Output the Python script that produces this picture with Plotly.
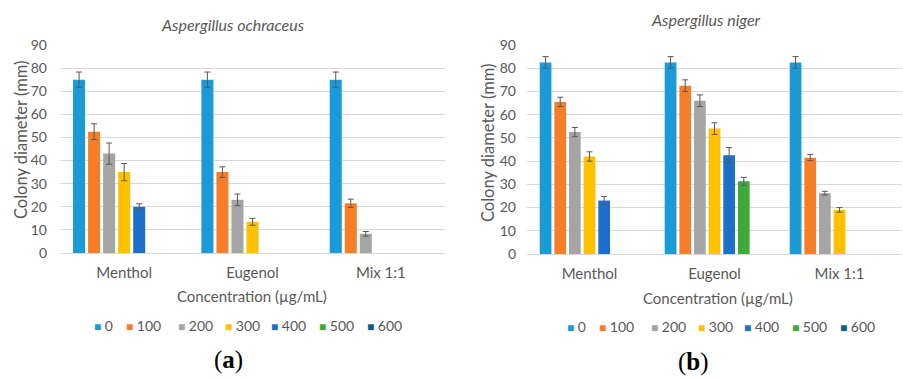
import plotly.graph_objects as go

W, H = 903, 379

categories = ["Menthol", "Eugenol", "Mix 1:1"]
series_names = ["0", "100", "200", "300", "400", "500", "600"]
colors = ["#1a9ad7", "#f77e28", "#a5a5a5", "#ffc000", "#1b6fc8", "#3fa93a", "#0e5c93"]

# Aspergillus ochraceus (a)
ochr_values = [
    [75.0, 75.0, 75.0],
    [52.5, 35.0, 21.5],
    [43.0, 23.0, 8.3],
    [35.0, 13.5, None],
    [20.0, None, None],
    [None, None, None],
    [None, None, None],
]
ochr_err = [
    [3.3, 3.3, 3.3],
    [3.4, 2.3, 1.8],
    [4.6, 2.5, 1.0],
    [3.7, 1.5, 0],
    [1.3, 0, 0],
    [0, 0, 0],
    [0, 0, 0],
]

# Aspergillus niger (b)
niger_values = [
    [82.5, 82.5, 82.5],
    [65.5, 72.5, 41.5],
    [52.5, 66.0, 26.2],
    [42.0, 54.0, 19.0],
    [23.0, 42.5, None],
    [None, 31.3, None],
    [None, None, None],
]
niger_err = [
    [2.5, 2.5, 2.5],
    [2.0, 2.5, 1.3],
    [2.0, 2.5, 0.8],
    [2.0, 2.5, 1.0],
    [1.8, 3.3, 0],
    [0, 1.7, 0],
    [0, 0, 0],
]

y_ticks = [0, 10, 20, 30, 40, 50, 60, 70, 80, 90]

FONT = "Lato, 'Open Sans', sans-serif"
GRAY = "#595959"


def px(x):
    return x / W


def py(y):
    return 1 - y / H


fig = go.Figure()

panels = [
    ("x", "y", ochr_values, ochr_err),
    ("x2", "y2", niger_values, niger_err),
]
for xa, ya, vals, errs in panels:
    for i, name in enumerate(series_names):
        fig.add_trace(go.Bar(
            x=categories, y=vals[i], name=name,
            marker=dict(color=colors[i], line=dict(width=0)),
            error_y=dict(type="data", array=errs[i], visible=True,
                         color="#595959", thickness=1, width=3),
            xaxis=xa, yaxis=ya, showlegend=False,
        ))

axis_common_y = dict(
    range=[0, 90], tickvals=y_ticks, showgrid=True, gridcolor="#d9d9d9",
    gridwidth=1, zeroline=False, showline=False, ticks="",
    tickfont=dict(family=FONT, size=14, color=GRAY),
)
axis_common_x = dict(
    showgrid=False, zeroline=False, showline=True, linecolor="#d9d9d9",
    ticks="", tickfont=dict(family=FONT, size=15, color=GRAY),
)

fig.update_layout(
    width=W, height=H,
    margin=dict(l=0, r=0, t=0, b=0, autoexpand=False),
    paper_bgcolor="white", plot_bgcolor="white",
    barmode="group", bargap=0.18, bargroupgap=0.2,
    showlegend=False,
    xaxis=dict(domain=[px(60), px(445)], anchor="y", **axis_common_x,
               ticklabelstandoff=6),
    yaxis=dict(domain=[py(253), py(45)], anchor="x", **axis_common_y,
               ticklabelstandoff=12),
    xaxis2=dict(domain=[px(527), px(902)], anchor="y2", **axis_common_x,
                ticklabelstandoff=6),
    yaxis2=dict(domain=[py(254), py(45)], anchor="x2", **axis_common_y,
                ticklabelstandoff=10),
)

annots = [
    dict(text="<i>Aspergillus ochraceus</i>", x=px(233), y=py(24), size=16),
    dict(text="<i>Aspergillus niger</i>", x=px(706), y=py(20), size=16),
    dict(text="Concentration (µg/mL)", x=px(252), y=py(296), size=15),
    dict(text="Concentration (µg/mL)", x=px(718), y=py(298), size=15),
]
for a in annots:
    fig.add_annotation(text=a["text"], x=a["x"], y=a["y"], xref="paper", yref="paper",
                       showarrow=False, xanchor="center", yanchor="middle",
                       font=dict(family=FONT, size=a["size"], color=GRAY))

for xpos, ypos in [(21, 140), (488, 143)]:
    fig.add_annotation(text="Colony diameter (mm)", x=px(xpos), y=py(ypos),
                       xref="paper", yref="paper", showarrow=False, textangle=-90,
                       xanchor="center", yanchor="middle",
                       font=dict(family=FONT, size=16.5, color=GRAY))

# legends (one per panel), built from series names and colours
legend_offsets = [0, 32, 84, 131, 177, 225, 273]
for start, ly in [(92, 325), (565, 326)]:
    for name, col, off in zip(series_names, colors, legend_offsets):
        fig.add_annotation(
            text=f"<span style='color:{col};font-size:12px'>■</span>&nbsp;{name}",
            x=px(start + off), y=py(ly), xref="paper", yref="paper",
            showarrow=False, xanchor="left", yanchor="middle",
            font=dict(family=FONT, size=14, color=GRAY))

for lbl, xpos, ypos in [("(<b>a</b>)", 228, 360), ("(<b>b</b>)", 693, 362)]:
    fig.add_annotation(text=lbl, x=px(xpos), y=py(ypos), xref="paper", yref="paper",
                       showarrow=False, xanchor="center", yanchor="middle",
                       font=dict(family="'Liberation Serif', 'DejaVu Serif', serif",
                                 size=25, color="black"))

fig.write_html("out.html", post_script="document.body.style.margin='0';",
               config={"displayModeBar": False})
